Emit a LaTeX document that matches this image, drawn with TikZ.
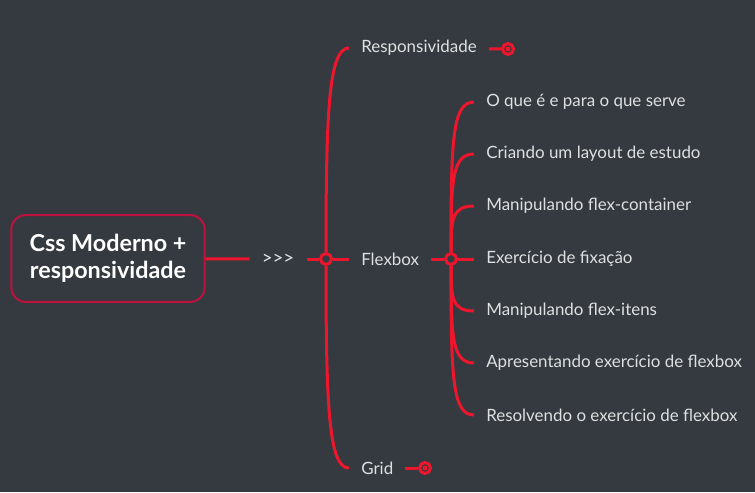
\documentclass[tikz,border=0pt]{standalone}
\usepackage{fontspec}
\setmainfont{Lato}
\usetikzlibrary{calc}
\definecolor{mmbg}{RGB}{52, 58, 63}
\definecolor{mmred}{RGB}{238, 22, 44}
\definecolor{mmcrimson}{RGB}{192, 18, 62}
\definecolor{mmtext}{RGB}{222, 224, 226}

\tikzset{
  branch/.style={mmred,line width=2.25pt},
  topic/.style={anchor=west,inner xsep=9pt,text=mmtext,font=\fontsize{12.7}{14}\selectfont},
  hubdot/.style={circle,draw=mmred,line width=2.25pt,fill=mmbg,minimum size=8.25pt,inner sep=0pt},
  enddot/.style={hubdot,path picture={\fill[mmred] (path picture bounding box.center) circle (1.9pt);}}
}

\begin{document}
\begin{tikzpicture}[x=0.75pt,y=-0.75pt]
\fill[mmbg] (0,0) rectangle (755,492);
\useasboundingbox (0,0) rectangle (755,492);

% Root
\node[draw=mmcrimson,line width=1.5pt,fill=mmbg,rounded corners=10.5pt,
      minimum width=145pt,minimum height=65pt,align=center,text=white,
      font=\fontsize{17.5}{20.5}\selectfont\bfseries] (root) at (108,258.5)
      {Css Moderno +\\responsividade};
\node[text=mmtext!85,inner xsep=9pt,font=\fontsize{14}{14}\selectfont] (arrows) at (278,259) {>{}>{}>};
\node[hubdot] (hub) at (326,259) {};
\draw[branch] (root) -- (arrows);
\draw[branch] (arrows) -- (hub);

% Level 1
\node[topic] (resp) at (349,48) {Responsividade};
\node[topic] (flex) at (349,259) {Flexbox};
\node[topic] (grid) at (349,468) {Grid};
\draw[branch] (hub) .. controls +(0,-150) and +(-20,0) .. (resp.west);
\draw[branch] (hub) .. controls +(0,150) and +(-20,0) .. (grid.west);
\draw[branch] (hub) -- (flex);

% Collapsed ends
\node[enddot] (respend) at (508,49) {};
\node[enddot] (gridend) at (425,468) {};
\draw[branch] (resp) -- (respend);
\draw[branch] (grid) -- (gridend);

% Flexbox topics
\node[hubdot] (fhub) at (451,259) {};
\draw[branch] (flex) -- (fhub);
\foreach \n/\y/\t in {1/102/{O que é e para o que serve},
                      2/154/{Criando um layout de estudo},
                      3/206/{Manipulando flex-container},
                      4/259/{Exercício de fixação},
                      5/311/{Manipulando flex-itens},
                      6/363/{Apresentando exercício de flexbox},
                      7/415/{Resolvendo o exercício de flexbox}}
  \node[topic] (c\n) at (474,\y) {\t};
\foreach \n in {1,2,3,5,6,7}
  \draw[branch] (fhub) .. controls ($(fhub)!0.75!(fhub |- c\n)$) and ($(c\n.west)+(-22,0)$) .. (c\n.west);
\draw[branch] (fhub) -- (c4);
\end{tikzpicture}
\end{document}
